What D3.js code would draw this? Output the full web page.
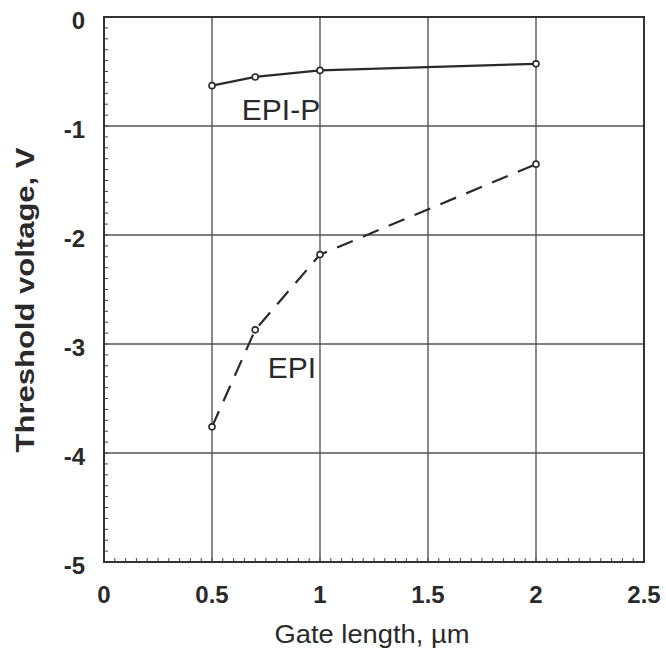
<!DOCTYPE html>
<html><head><meta charset="utf-8">
<script src="https://cdn.jsdelivr.net/npm/d3@7"></script>
<style>body{margin:0;background:#fff}svg{display:block}</style>
</head><body><svg id="c" width="666" height="658"></svg>
<script>
const gateLength = [0.5, 0.7, 1, 2];
const epiP = [-0.63, -0.55, -0.49, -0.43];
const epi = [-3.76, -2.87, -2.18, -1.35];
const xTicks = [0, 0.5, 1, 1.5, 2, 2.5];
const yTicks = [0, -1, -2, -3, -4, -5];
const xTickLabels = ["0", "0.5", "1", "1.5", "2", "2.5"];
const yTickLabels = ["0", "-1", "-2", "-3", "-4", "-5"];

const svg = d3.select("#c");
const L = 104, R = 644, T = 17, B = 562;
const x = d3.scaleLinear().domain([0, 2.5]).range([L, R]);
const y = d3.scaleLinear().domain([-5, 0]).range([B, T]);
const ink = "#2a2a2a";
const font = "Liberation Sans, Arial, sans-serif";

// grid
const g = svg.append("g");
g.selectAll(".gx").data(xTicks.slice(1, -1)).join("line")
  .attr("x1", d => x(d)).attr("x2", d => x(d)).attr("y1", T).attr("y2", B)
  .attr("stroke", "#555").attr("stroke-width", 1.4);
g.selectAll(".gy").data(yTicks.slice(1, -1)).join("line")
  .attr("y1", d => y(d)).attr("y2", d => y(d)).attr("x1", L).attr("x2", R)
  .attr("stroke", "#555").attr("stroke-width", 1.4);

// minor ticks (inside)
const yMinor = d3.range(-5, 0.001, 0.1);
g.selectAll(".my").data(yMinor).join("line")
  .attr("x1", L).attr("x2", L + 4).attr("y1", d => y(d)).attr("y2", d => y(d))
  .attr("stroke", "#444").attr("stroke-width", 1);
const xMinor = d3.range(0, 2.501, 0.05);
g.selectAll(".mx").data(xMinor).join("line")
  .attr("y1", B).attr("y2", B - 4).attr("x1", d => x(d)).attr("x2", d => x(d))
  .attr("stroke", "#444").attr("stroke-width", 1);

// frame
svg.append("rect").attr("x", L).attr("y", T).attr("width", R - L).attr("height", B - T)
  .attr("fill", "none").attr("stroke", "#333").attr("stroke-width", 2);

// tick labels
svg.append("g").selectAll("text").data(xTicks).join("text")
  .attr("x", d => x(d)).attr("y", 603).attr("text-anchor", "middle")
  .attr("font-family", font).attr("font-weight", "bold").attr("font-size", 24).attr("fill", ink)
  .text((d, i) => xTickLabels[i]);
svg.append("g").selectAll("text").data(yTicks).join("text")
  .attr("x", 85).attr("y", d => y(d) + 12).attr("text-anchor", "end")
  .attr("font-family", font).attr("font-weight", "bold").attr("font-size", 24).attr("fill", ink)
  .text((d, i) => yTickLabels[i]);

// axis titles
svg.append("text").attr("x", 372).attr("y", 643).attr("text-anchor", "middle")
  .attr("font-family", font).attr("font-size", 25).attr("fill", ink)
  .attr("textLength", 195).attr("lengthAdjust", "spacingAndGlyphs").text("Gate length, µm");
svg.append("text").attr("transform", "translate(34,300) rotate(-90)").attr("text-anchor", "middle")
  .attr("font-family", font).attr("font-size", 26).attr("font-weight", "bold").attr("fill", ink)
  .attr("textLength", 305).attr("lengthAdjust", "spacingAndGlyphs").text("Threshold voltage, V");

// series
const line = d3.line().x(d => x(d[0])).y(d => y(d[1]));
const sP = gateLength.map((v, i) => [v, epiP[i]]);
const sE = gateLength.map((v, i) => [v, epi[i]]);
svg.append("path").attr("d", line(sP)).attr("fill", "none").attr("stroke", ink).attr("stroke-width", 2.2);
svg.append("path").attr("d", line(sE)).attr("fill", "none").attr("stroke", ink).attr("stroke-width", 2.2)
  .attr("stroke-dasharray", "17,11");
[sP, sE].forEach(s => {
  svg.append("g").selectAll("circle").data(s).join("circle")
    .attr("cx", d => x(d[0])).attr("cy", d => y(d[1])).attr("r", 3)
    .attr("fill", "#fff").attr("stroke", ink).attr("stroke-width", 1.6);
});

// series labels
svg.append("text").attr("x", 281).attr("y", 120).attr("text-anchor", "middle")
  .attr("font-family", font).attr("font-size", 30).attr("fill", ink).text("EPI-P");
svg.append("text").attr("x", 292).attr("y", 378).attr("text-anchor", "middle")
  .attr("font-family", font).attr("font-size", 30).attr("fill", ink).text("EPI");
</script></body></html>
